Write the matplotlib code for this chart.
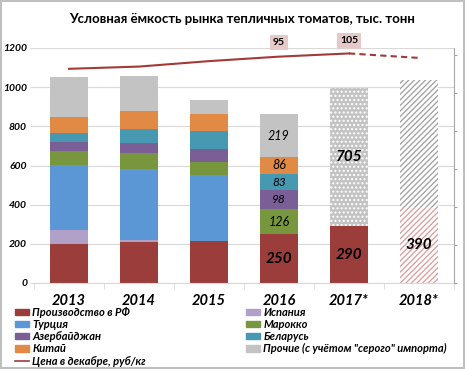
import matplotlib
matplotlib.use("Agg")
import matplotlib.pyplot as plt
from matplotlib.patches import Patch
from matplotlib.lines import Line2D
import numpy as np

plt.rcParams['font.family'] = ['Lato', 'DejaVu Sans']

years = ['2013', '2014', '2015', '2016', '2017*', '2018*']
rf = [200, 208, 213, 250, 290, 390]
spain = [70, 12, 2, 0, 0, 0]
turkey = [332, 363, 335, 0, 0, 0]
morocco = [72, 80, 67, 126, 0, 0]
azerbaijan = [48, 53, 66, 98, 0, 0]
belarus = [46, 70, 93, 83, 0, 0]
china = [80, 92, 86, 86, 0, 0]
others = [205, 179, 72, 219, 705, 646]
price = [57, 64, 81, 95, 105, 91]

names = ['Производство в РФ', 'Испания', 'Турция', 'Марокко', 'Азербайджан',
         'Беларусь', 'Китай', 'Прочие (с учётом "серого" импорта)']
price_name = 'Цена в декабре, руб/кг'
series = [rf, spain, turkey, morocco, azerbaijan, belarus, china, others]
colors = ['#9A3D3B', '#B1A0C7', '#5B96D5', '#78963E', '#7A5F96', '#4699B1', '#E08A45', '#C3C3C3']

fig = plt.figure(figsize=(4.65, 3.69), dpi=100)
fig.patch.set_edgecolor('#BFBFBF')
fig.patch.set_linewidth(1.5)
ax = fig.add_axes([34/465, 1-283/369, 420/465, 235/369])

x = np.arange(len(years))
bottom = np.zeros(len(years))
width = 0.55
for vals, col in zip(series, colors):
    bars = ax.bar(x, vals, width, bottom=bottom, color=col, linewidth=0, zorder=2)
    bottom += np.array(vals)
    if col == '#C3C3C3':
        bars[4].set_hatch('....')
        bars[4].set_edgecolor('white')
        bars[4].set_linewidth(0)
        bars[5].set_facecolor('white')
        bars[5].set_hatch('//////')
        bars[5].set_edgecolor('#A6A6A6')
        bars[5].set_linewidth(0)
    if col == '#9A3D3B':
        bars[5].set_facecolor('white')
        bars[5].set_hatch('//////')
        bars[5].set_edgecolor('#D9A3A2')
        bars[5].set_linewidth(0)

ax.set_xlim(-0.5, len(years) - 0.5)
ax.set_ylim(0, 1200)
ax.set_yticks(np.arange(0, 1201, 200))
ax.grid(axis='y', color='#D9D9D9', linewidth=0.8, zorder=0)
ax.set_axisbelow(True)
for s in ['left', 'right', 'top']:
    ax.spines[s].set_visible(False)
ax.spines['bottom'].set_color('#D9D9D9')
ax.tick_params(axis='y', length=3, color='#D9D9D9', labelsize=7.5, pad=2)
for lbl in ax.get_yticklabels():
    lbl.set_fontstyle('italic')
    lbl.set_fontweight('bold')
ax.set_xticks(x)
ax.set_xticklabels(years, fontsize=10.5, fontweight='bold', fontstyle='italic')
ax.tick_params(axis='x', length=0, pad=8)
ax.set_xticks(np.arange(-0.5, len(years)), minor=True)
ax.tick_params(axis='x', which='minor', length=4, color='#D9D9D9')

# value labels
def lab(i, bot, val, text, size, bold):
    ax.text(i, bot + val / 2, text, ha='center', va='center', fontsize=size,
            fontstyle='italic', fontweight='bold' if bold else 'normal', zorder=5)

i = 3
b = 0
small = {1: 9, 3: 9, 4: 8.5, 5: 8.5, 6: 9, 7: 9}
for k, vals in enumerate(series):
    v = vals[i]
    if v > 0:
        if k == 0:
            lab(i, b, v, str(v), 11, True)
        else:
            lab(i, b, v, str(v), small[k], False)
    b += v
lab(4, 0, rf[4], str(rf[4]), 11, True)
lab(4, rf[4], others[4], str(others[4]), 11, True)
lab(5, 0, rf[5], str(rf[5]), 11, True)

# secondary axis
ax2 = ax.twinx()
lo, hi = -612, 122
ax2.set_ylim(lo, hi)
step = (283 - 55) / 6 / (235 / (hi - lo))
ax2.set_yticks([lo + k * step for k in range(7)])
ax2.set_yticklabels([])
ax2.tick_params(axis='y', length=2, color='#A6A6A6')
for s in ['left', 'top', 'bottom']:
    ax2.spines[s].set_visible(False)
ax2.spines['right'].set_color('#A6A6A6')
red = '#A33A38'
ax2.plot(x[:5], price[:5], color=red, linewidth=1.5, zorder=3)
ax2.plot(x[4:], price[4:], color=red, linewidth=1.5, linestyle=(0, (3, 2)), zorder=3)
for i, dy in [(3, 10), (4, 9)]:
    ax2.annotate(str(price[i]), (x[i], price[i]), xytext=(0, dy), textcoords='offset points',
                 ha='center', va='center', fontsize=7.5, fontweight='bold',
                 bbox=dict(boxstyle='square,pad=0.3', facecolor='#E6CACA', edgecolor='none'),
                 annotation_clip=False)

fig.text(242/465, 1-19/369, 'Условная ёмкость рынка тепличных томатов, тыс. тонн',
         ha='center', va='center', fontsize=9.5, fontweight='bold')

left_h = [Patch(color=colors[0]), Patch(color=colors[2]), Patch(color=colors[4]),
          Patch(color=colors[6]), Line2D([], [], color=red, linewidth=1.2)]
left_l = [names[0], names[2], names[4], names[6], price_name]
right_h = [Patch(color=colors[1]), Patch(color=colors[3]), Patch(color=colors[5]),
           Patch(color=colors[7])]
right_l = [names[1], names[3], names[5], names[7]]
common = dict(frameon=False, loc='upper left', borderpad=0, borderaxespad=0,
              handlelength=1.3, handleheight=0.5, handletextpad=0.25, labelspacing=0.1,
              prop=dict(size=8, style='italic', weight='bold'))
fig.legend(left_h, left_l, bbox_to_anchor=(15/465, 1-307/369), **common)
fig.legend(right_h, right_l, bbox_to_anchor=(246/465, 1-307/369), **common)

fig.savefig('out.png', dpi=100)
